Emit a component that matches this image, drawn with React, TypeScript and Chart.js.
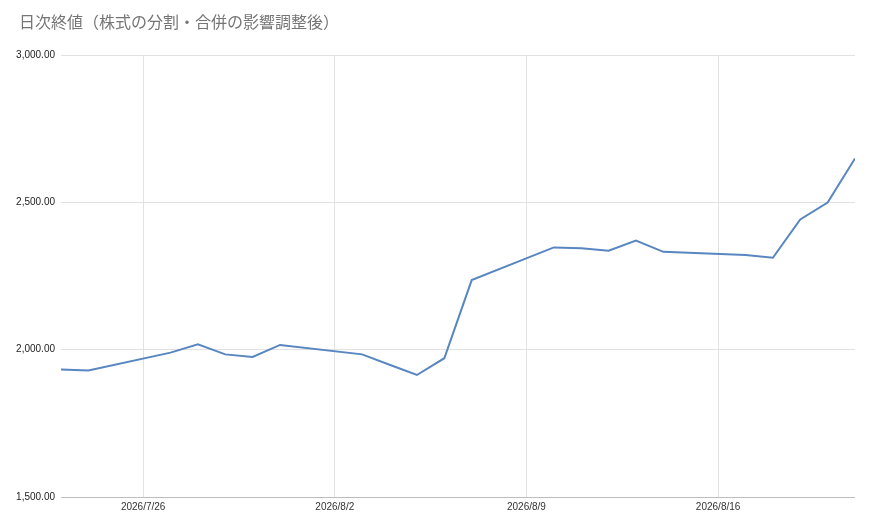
import React, { useEffect, useRef } from "react";
import { Chart, registerables } from "chart.js";

Chart.register(...registerables);

const TITLE = "日次終値（株式の分割・合併の影響調整後）";

const dates: string[] = [
  "2026-07-23", "2026-07-24", "2026-07-27", "2026-07-28", "2026-07-29",
  "2026-07-30", "2026-07-31", "2026-08-03", "2026-08-04", "2026-08-05",
  "2026-08-06", "2026-08-07", "2026-08-10", "2026-08-11", "2026-08-12",
  "2026-08-13", "2026-08-14", "2026-08-17", "2026-08-18", "2026-08-19",
  "2026-08-20", "2026-08-21",
];

const closes: number[] = [
  1933, 1929, 1990, 2018, 1984,
  1975, 2016, 1984, 1949, 1914,
  1971, 2236, 2347, 2344, 2336,
  2370, 2332, 2321, 2312, 2442,
  2499, 2649,
];

const xTickDates: string[] = ["2026-07-26", "2026-08-02", "2026-08-09", "2026-08-16"];
const yTicks: number[] = [1500, 2000, 2500, 3000];

const DAY = 86400000;
const toDay = (s: string) => {
  const [y, m, d] = s.split("-").map(Number);
  return Date.UTC(y, m - 1, d) / DAY;
};
const fmtDay = (n: number) => {
  const dt = new Date(n * DAY);
  return `${dt.getUTCFullYear()}/${dt.getUTCMonth() + 1}/${dt.getUTCDate()}`;
};

export default function App() {
  const ref = useRef<HTMLCanvasElement | null>(null);

  useEffect(() => {
    document.body.style.margin = "0";
    if (!ref.current) return;
    const points = dates.map((d, i) => ({ x: toDay(d), y: closes[i] }));
    const xTicks = xTickDates.map(toDay);
    const chart = new Chart(ref.current, {
      type: "line",
      data: {
        datasets: [
          {
            data: points,
            borderColor: "#5886c0",
            borderWidth: 2,
            pointRadius: 0,
            tension: 0,
            fill: false,
          },
        ],
      },
      options: {
        animation: false,
        responsive: false,
        devicePixelRatio: 1,
        layout: { padding: { top: 55, right: 15, bottom: 8, left: 0 } },
        plugins: {
          legend: { display: false },
          tooltip: { enabled: false },
          title: { display: false },
        },
        scales: {
          x: {
            type: "linear",
            min: toDay(dates[0]),
            max: toDay(dates[dates.length - 1]),
            afterBuildTicks: (scale: any) => {
              scale.ticks = xTicks.map((v) => ({ value: v }));
            },
            ticks: {
              autoSkip: false,
              maxRotation: 0,
              padding: 4,
              color: "#333333",
              font: { family: "'Liberation Sans', Arial, sans-serif", size: 10 },
              callback: (v: any) => fmtDay(Number(v)),
            },
            grid: {
              color: "#e2e2e2",
              drawTicks: false,
              lineWidth: 1,
            },
            border: { display: false },
          },
          y: {
            type: "linear",
            min: 1500,
            max: 3000,
            afterBuildTicks: (scale: any) => {
              scale.ticks = yTicks.map((v) => ({ value: v }));
            },
            afterFit: (scale: any) => {
              scale.width = 61;
            },
            ticks: {
              padding: 6,
              color: "#222222",
              font: { family: "'Liberation Sans', Arial, sans-serif", size: 10 },
              callback: (v: any) =>
                Number(v).toLocaleString("en-US", {
                  minimumFractionDigits: 2,
                  maximumFractionDigits: 2,
                }),
            },
            grid: {
              color: (ctx: any) => (ctx.tick && ctx.tick.value === 1500 ? "#bdbdbd" : "#e2e2e2"),
              drawTicks: false,
              lineWidth: 1,
            },
            border: { display: false },
          },
        },
      },
    } as any);
    return () => chart.destroy();
  }, []);

  return (
    <div style={{ position: "relative", width: 870, height: 525, background: "#ffffff" }}>
      <div
        style={{
          position: "absolute",
          left: 19,
          top: 9,
          fontFamily: "'Noto Sans CJK JP', 'Liberation Sans', sans-serif",
          fontSize: 16,
          lineHeight: "24px",
          color: "#757575",
          whiteSpace: "nowrap",
        }}
      >
        {TITLE}
      </div>
      <canvas ref={ref} width={870} height={525} style={{ display: "block" }} />
    </div>
  );
}
